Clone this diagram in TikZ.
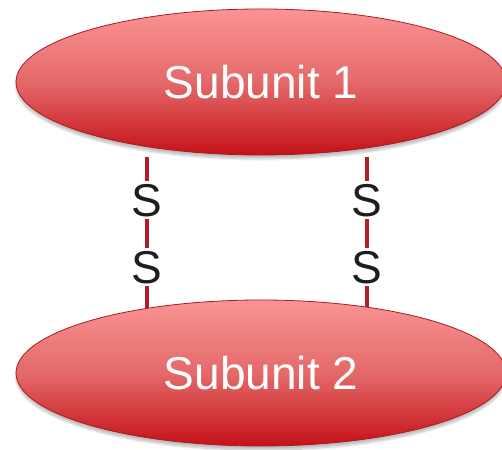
\documentclass[tikz,border=0pt]{standalone}
\usepackage{fontspec}
\setmainfont{Liberation Sans}
\usetikzlibrary{shapes.geometric,shadows.blur}
\definecolor{topred}{RGB}{250,148,148}
\definecolor{midred}{RGB}{228,105,105}
\definecolor{botred}{RGB}{196,18,24}
\definecolor{edgered}{RGB}{170,25,35}
\definecolor{bondred}{RGB}{178,30,40}
\definecolor{sgray}{RGB}{30,30,30}
\begin{document}
\begin{tikzpicture}[x=1pt,y=1pt,
  subunit/.style={ellipse,minimum width=490pt,minimum height=146pt,inner sep=0pt,
    draw=edgered,line width=0.8pt,top color=topred,bottom color=botred,middle color=midred,
    blur shadow={shadow xshift=0pt,shadow yshift=-4pt,shadow opacity=25,shadow blur steps=8},
    font=\fontsize{46}{46}\selectfont,text=white},
  sulfur/.style={inner xsep=1pt,inner ysep=3pt,font=\fontsize{46}{46}\selectfont,text=sgray,text depth=0pt},
  bond/.style={draw=bondred,line width=4pt}]
\useasboundingbox (0,0) rectangle (502,449);
% sulfur atoms
\node[sulfur] (s1) at (147,249) {S};
\node[sulfur] (s2) at (147,182) {S};
\node[sulfur] (s3) at (367,249) {S};
\node[sulfur] (s4) at (367,182) {S};
\coordinate (a1) at (147,292);
\coordinate (a3) at (367,292);
\coordinate (b1) at (147,135);
\coordinate (b3) at (367,135);
% bonds
\path[bond] (a1) -- (s1.north);
\path[bond] (s1.south) -- (s2.north);
\path[bond] (s2.south) -- (b1);
\path[bond] (a3) -- (s3.north);
\path[bond] (s3.south) -- (s4.north);
\path[bond] (s4.south) -- (b3);
% subunits
\node[subunit] (u1) at (261,367) {Subunit 1};
\node[subunit] (u2) at (261,76) {Subunit 2};
\end{tikzpicture}
\end{document}
